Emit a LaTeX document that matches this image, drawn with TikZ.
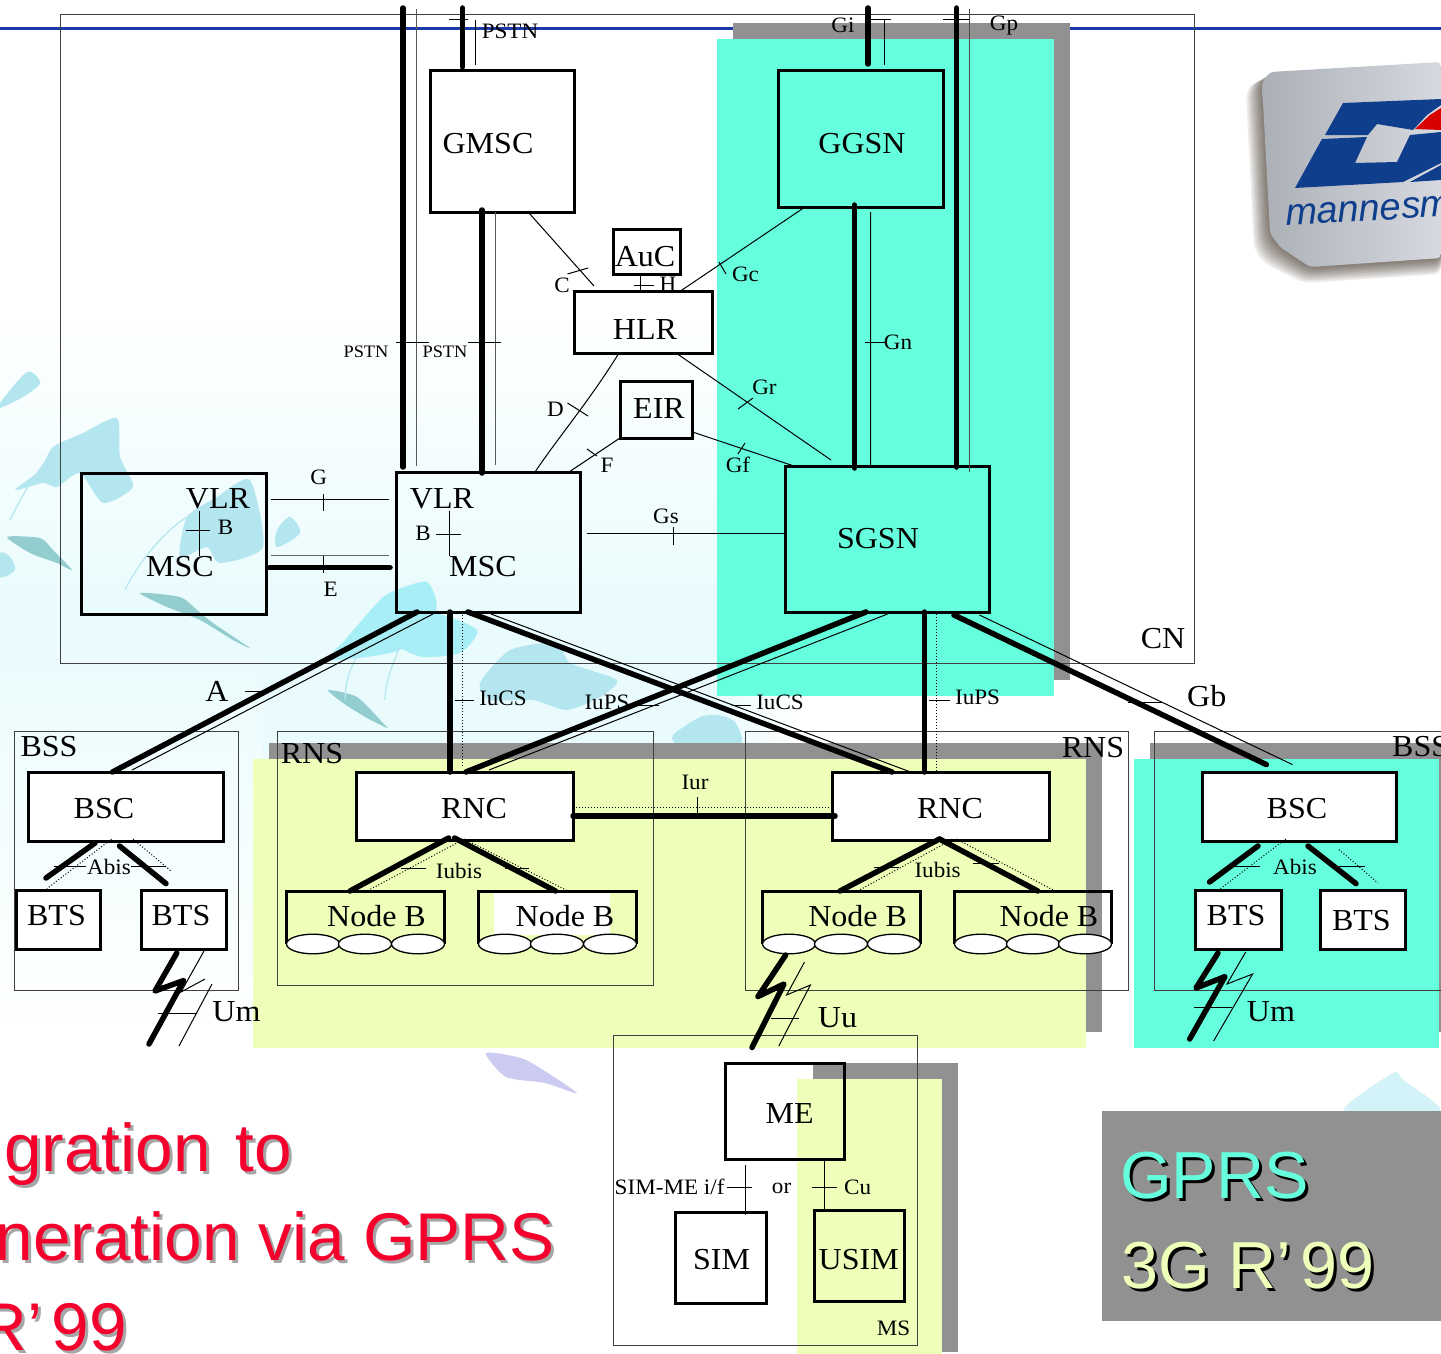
\documentclass[tikz,border=0pt]{standalone}
\usepackage{fontspec}
\setmainfont[FakeStretch=1.05]{Liberation Serif}
\newfontfamily\sansT{Liberation Sans}
\newfontfamily\logoT[ItalicFont={Liberation Sans Italic}]{Liberation Sans}
\usetikzlibrary{calc}
\definecolor{cyanR}{HTML}{66FFDD}
\definecolor{yelR}{HTML}{EEFFB9}
\definecolor{shadeR}{HTML}{919191}
\definecolor{redR}{HTML}{F5002D}
\definecolor{blueL}{HTML}{1C3AA9}
\definecolor{logoB}{HTML}{0F3E8C}
\definecolor{logoP}{HTML}{C9CED6}
\definecolor{wmA}{HTML}{B4E6F0}
\definecolor{wmB}{HTML}{A8EEF6}
\definecolor{wmC}{HTML}{94CDD0}
\definecolor{tintA}{HTML}{E9FBFD}
\tikzset{
  boxs/.style={draw=black,line width=3pt,inner sep=0pt,outer sep=0pt},
  regionb/.style={draw=black!75,line width=1pt,inner sep=0pt,outer sep=0pt},
  ghost/.style={inner sep=0pt,outer sep=0pt},
  thk/.style={line width=5.5pt,line cap=round,line join=round,draw=black},
  thn/.style={line width=1pt,draw=black},
  dot/.style={line width=1pt,dotted,draw=black},
  bigt/.style={font=\fontsize{30.5}{30}\selectfont,inner sep=0pt,text=black,yshift=-.7pt},
  midt/.style={font=\fontsize{22}{22}\selectfont,inner sep=0pt,text=black},
  smlt/.style={font=\fontsize{17.5}{18}\selectfont,inner sep=0pt,text=black},
  titleR/.style={font=\sansT\fontsize{67.5}{67}\selectfont,inner sep=0pt,text=redR},
  titleS/.style={font=\sansT\fontsize{67.5}{67}\selectfont,inner sep=0pt,text=black!35},
  keyT/.style={font=\sansT\fontsize{66.5}{67}\selectfont,inner sep=0pt},
  wm/.style={draw=none,fill=wmA},
  wmthin/.style={draw=wmA,line width=1.2pt},
}
\newcommand\bx[6][]{%
  \pgfmathsetmacro\bcx{(#3+#5)/2}\pgfmathsetmacro\bcy{(#4+#6)/2}%
  \pgfmathsetmacro\bw{#5-#3}\pgfmathsetmacro\bh{#6-#4}%
  \node[#1,minimum width=\bw pt,minimum height=\bh pt] (#2) at (\bcx,\bcy) {};}
\begin{document}
\begin{tikzpicture}[x=1pt,y=-1pt]
\useasboundingbox (0,0) rectangle (1441,1354);
\fill[white] (0,0) rectangle (1441,1354);
% ---------- watermark
\shade[top color=white,bottom color=tintA] (0,300) rectangle (717,620);
\shade[top color=tintA,bottom color=white] (0,620) rectangle (262,1045);
\fill[tintA] (262,620) rectangle (717,760);
\shade[left color=tintA,right color=white] (717,690) rectangle (800,760);
\fill[wm] plot[smooth cycle,tension=.5] coordinates {(0,403) (27,372) (40,383) (23,397) (0,408)};
\fill[wm] plot[smooth cycle,tension=.4] coordinates {(117,418) (120,457) (133,487) (103,503) (80,473) (57,487) (43,483) (15,490) (40,470) (53,447) (83,433)};
\fill[wm] plot[smooth cycle,tension=.4] coordinates {(250,480) (263,547) (220,563) (207,547) (180,557) (187,517) (217,497)};
\fill[wm] plot[smooth cycle,tension=.5] coordinates {(277,530) (290,517) (300,533) (277,547)};
\fill[wm] plot[smooth cycle,tension=.5] coordinates {(0,553) (10,557) (15,570) (0,577)};
\fill[wmC] plot[smooth cycle,tension=.4] coordinates {(7,537) (40,538) (53,550) (72,570) (57,563) (30,553)};
\fill[wmC] plot[smooth cycle,tension=.4] coordinates {(140,593) (180,597) (197,610) (213,623) (250,648) (233,640) (200,620) (167,607)};
\fill[wmB] plot[smooth cycle,tension=.4] coordinates {(427,582) (436,610) (400,650) (330,660) (345,640) (380,600) (396,590)};
\fill[wmC] plot[smooth cycle,tension=.4] coordinates {(328,690) (357,697) (383,723) (387,728) (367,718) (343,703)};
\fill[wmB] plot[smooth cycle,tension=.4] coordinates {(400,630) (433,613) (477,630) (460,653) (423,657) (400,647)};
\fill[wm] plot[smooth cycle,tension=.4] coordinates {(510,650) (557,643) (570,663) (617,680) (600,697) (567,710) (533,700) (490,700) (480,683)};
\fill[wm] plot[smooth cycle,tension=.4] coordinates {(673,735) (700,717) (717,715) (735,722) (740,745) (680,745)};
\draw[wmthin] (10,520) .. controls (30,480) and (50,450) .. (70,440);
\draw[wmthin] (125,590) .. controls (140,560) and (165,530) .. (190,515);
\draw[wmthin] (345,700) .. controls (345,670) and (360,650) .. (375,630);
\draw[wmthin] (385,700) .. controls (385,680) and (395,660) .. (400,645);
\fill[tintA!60!wmA] plot[smooth cycle,tension=.4] coordinates {(1344,1111) (1393,1073) (1403,1080) (1440,1111)};
\fill[black!25!blue!20] plot[smooth cycle,tension=.4] coordinates {(486,1053) (526,1060) (577,1093) (545,1083) (506,1077)};
% ---------- title rule
\draw[blueL,line width=3.5pt] (0,28.5) -- (1441,28.5);
% ---------- shaded regions
\fill[shadeR] (733,23) rectangle (1070,680);
\fill[cyanR] (717,39) rectangle (1054,696);
\fill[shadeR] (269,743) rectangle (1102,1032);
\fill[yelR] (253,759) rectangle (1086,1048);
\fill[shadeR] (1150,743) rectangle (1455,1032);
\fill[cyanR] (1134,759) rectangle (1439,1048);
\fill[shadeR] (813,1063) rectangle (958,1352);
\fill[yelR] (797,1079) rectangle (942,1354);
\fill[shadeR] (1102,1111) rectangle (1441,1321);
% ---------- logo
\foreach \d in {16,14,12,10,8,6,4,2}{
  \fill[black!80!brown,opacity=.09,rounded corners=8pt] ($(1262,83)+(-\d,0.6*\d)$) -- ($(1270,72)+(-\d,0.6*\d)$) -- ($(1441,70)$) -- ($(1441,258)+(0,\d)$) -- ($(1310,267)+(-.4*\d,\d)$) -- ($(1280,247)+(-\d,\d)$) -- ($(1270,233)+(-\d,\d)$) -- cycle;
}
\shade[left color=logoP!85!black,middle color=logoP!45!white,right color=logoP!75!white,rounded corners=4pt] (1262,83) -- (1270,72) -- (1441,62) -- (1441,258) -- (1310,267) -- (1280,247) -- (1270,233) -- cycle;
\fill[logoB] (1343,103) -- (1441,99) -- (1441,105) -- (1427,115) -- (1413,130) -- (1377,124) -- (1368,135) -- (1325,135) -- cycle;
\fill[logoB] (1322,139) -- (1367,137) -- (1355,163) -- (1397,162) -- (1410,135) -- (1441,132) -- (1441,163) -- (1403,182) -- (1295,188) -- cycle;
\fill[logoB] (1410,182) -- (1441,165) -- (1441,180) -- cycle;
\fill[red!85!black] (1415,129) -- (1430,115) -- (1441,108) -- (1441,130) -- cycle;
\node[ghost,anchor=base west,rotate=3,text=logoB,font=\logoT\itshape\fontsize{38}{38}\selectfont] (logotext) at (1286,225) {mannesm};
% ---------- group frames
\bx[regionb]{cn}{60}{15}{1194}{663}
\bx[regionb]{bssL}{14}{731}{238}{990}
\bx[regionb]{rnsL}{277}{731}{653}{985}
\bx[regionb]{rnsR}{745}{731}{1128}{990}
\bx[regionb]{bssR}{1154}{731}{1480}{990}
\bx[regionb]{ms}{613}{1035}{917}{1345}
% ---------- boxes
\bx[boxs,fill=white]{gmsc}{430.5}{71}{574}{212}
\bx[boxs]{auc}{613.5}{229}{680}{274}
\bx[boxs]{hlr}{574}{291}{712.5}{353}
\bx[boxs]{eir}{620}{381}{692.5}{438}
\bx[boxs]{ggsn}{778.5}{71}{943}{207}
\bx[boxs]{sgsn}{785}{466}{989.5}{612}
\bx[boxs]{mscL}{81}{473.5}{266.5}{614}
\bx[boxs]{mscR}{396}{472}{580.5}{612}
\bx[boxs,fill=white]{bscL}{28.5}{772}{223.5}{841}
\bx[boxs,fill=white]{btsA}{16}{890}{100}{949}
\bx[boxs,fill=white]{btsB}{141}{890}{226}{949}
\bx[boxs,fill=white]{rncL}{356}{772}{573}{840}
\bx[boxs,fill=white]{rncR}{832}{772}{1049.5}{840}
\bx[boxs,fill=white]{bscR}{1202}{772}{1396.5}{841}
\bx[boxs,fill=white]{btsC}{1195.5}{890}{1281}{949}
\bx[boxs,fill=white]{btsD}{1320.5}{890}{1405.5}{949}
\bx[boxs]{me}{725.5}{1063}{844.5}{1159}
\bx[boxs]{sim}{675}{1212}{766}{1303}
\bx[boxs]{usim}{814}{1210}{904}{1301}
% ---------- Node B stacks
\fill[white] (494,892) rectangle (610,935);
\bx[ghost]{nbA}{286}{891}{444}{944}
\bx[ghost]{nbB}{478}{891}{636}{944}
\bx[ghost]{nbC}{762}{891}{920}{944}
\bx[ghost]{nbD}{954}{891}{1111}{944}
\foreach \n in {nbA,nbB,nbC,nbD}{
  \draw[line width=3pt] (\n.south west) -- (\n.north west) -- (\n.north east) -- (\n.south east);
}
\foreach \xa/\xb/\xc in {313/365/418,505/557/610,789/841/894,981/1033/1085}{
  \foreach \xx in {\xa,\xb,\xc}{
    \draw[fill=white,line width=1.3pt] (\xx,944) ellipse [x radius=26.5,y radius=9.8];
  }
}
% ---------- core thick/thin connectors
\coordinate (topA) at (403,8);
\coordinate (topAt) at (416,9);
\coordinate (topB) at (462.5,8);
\coordinate (topBt) at (475,20);
\coordinate (topC) at (868,8);
\coordinate (topCt) at (884,20);
\coordinate (topD) at (956.5,8);
\coordinate (topDt) at (969.3,9);
\draw[thk] (topA) -- ([xshift=7pt,yshift=5pt]mscR.north west);
\draw[thn,draw=black!65] (topAt) -- ([xshift=20pt,yshift=6pt]mscR.north west);
\draw[thk] (topB) -- ([xshift=32pt,yshift=4pt]gmsc.north west);
\draw[thn] (topBt) -- ([xshift=44.5pt,yshift=6pt]gmsc.north west);
\draw[thk] ([xshift=51.5pt,yshift=2pt]gmsc.south west) -- ([xshift=86pt,yshift=-1pt]mscR.north west);
\draw[thn,draw=black!65] ([xshift=64.5pt]gmsc.south west) -- ([xshift=99pt,yshift=7pt]mscR.north west);
\draw[thn] ([xshift=98.5pt,yshift=-1pt]gmsc.south west) -- ([xshift=20pt,yshift=5pt]hlr.north west);
\draw[thn] ([xshift=26.5pt]auc.south west) -- ([xshift=66pt]hlr.north west);
\draw[thn] ([xshift=26.5pt]ggsn.south west) -- ([xshift=108pt,yshift=1pt]hlr.north west);
\draw[thn] (hlr.south west) ++(45,0) .. controls (590,400) and (560,435) .. ([xshift=139pt]mscR.north west);
\draw[thn] ([xshift=102pt]hlr.south west) -- ([xshift=46pt,yshift=6pt]sgsn.north west);
\draw[thn] (eir.south west) -- ([xshift=173pt]mscR.north west);
\draw[thn] ([yshift=6pt]eir.south east) -- ([xshift=9pt]sgsn.north west);
\draw[thk] ([xshift=76pt,yshift=2pt]ggsn.south west) -- ([xshift=69.5pt,yshift=-2pt]sgsn.north west);
\draw[thn] ([xshift=92pt,yshift=-5pt]ggsn.south west) -- ([xshift=85.6pt,yshift=1pt]sgsn.north west);
\draw[thk] (topC) -- ([xshift=89.5pt,yshift=7pt]ggsn.north west);
\draw[thn] (topCt) -- ([xshift=105.5pt,yshift=6pt]ggsn.north west);
\draw[thk] (topD) -- ([xshift=171.5pt,yshift=-1pt]sgsn.north west);
\draw[thn,draw=black!70] (topDt) -- ([xshift=184.3pt,yshift=-6pt]sgsn.north west);
\draw[thn] ([xshift=6.5pt,yshift=-61pt]mscR.north east) -- ([yshift=-67pt]sgsn.north west);
\coordinate (gL) at (271,499.4);\coordinate (gR) at (389,499.4);
\draw[thn] (gL) -- (gR);
\coordinate (eL) at (271,555.7);\coordinate (eR) at (389,555.7);
\draw[thn,draw=black!60,line width=1.3pt] (eL) -- (eR);
\draw[thk] ([xshift=3pt,yshift=-94pt]mscL.north east) -- ([xshift=-6pt,yshift=-95.5pt]mscR.north west);
% internal VLR-MSC
\draw[thn] (199,511) -- (199,556);
\draw[thn] (449,511) -- (449,556);
% ---------- access connectors
\draw[thk] ([xshift=21pt]mscR.south west) -- ([xshift=84pt]bscL.north west);
\draw[thn] ([xshift=37pt,yshift=-2pt]mscR.south west) -- ([xshift=103.5pt,yshift=2pt]bscL.north west);
\draw[thk] ([xshift=54pt]mscR.south west) -- ([xshift=94pt]rncL.north west);
\draw[dot] ([xshift=66pt]mscR.south west) -- ([xshift=106pt,yshift=6pt]rncL.north west);
\draw[thk] ([xshift=72pt]mscR.south west) -- ([xshift=60pt]rncR.north west);
\draw[thn] ([xshift=95pt,yshift=-2pt]mscR.south west) -- ([xshift=78.5pt]rncR.north west);
\draw[thk] ([xshift=81pt]sgsn.south west) -- ([xshift=110pt]rncL.north west);
\draw[thn] ([xshift=102.6pt,yshift=-2pt]sgsn.south west) -- ([xshift=133pt,yshift=2pt]rncL.north west);
\draw[thk] ([xshift=139.3pt]sgsn.south west) -- ([xshift=92.3pt]rncR.north west);
\draw[dot] ([xshift=151.7pt,yshift=-2pt]sgsn.south west) -- ([xshift=104.7pt]rncR.north west);
\draw[thk] ([xshift=169pt,yshift=-3pt]sgsn.south west) -- ([xshift=64.4pt,yshift=7.4pt]bscR.north west);
\draw[thn] ([xshift=194.4pt,yshift=-3pt]sgsn.south west) -- ([xshift=90.5pt,yshift=7.4pt]bscR.north west);
% Iur
\draw[thk] ([yshift=-44pt]rncL.north east) -- ([xshift=3pt,yshift=-44pt]rncR.north west);
\draw[dot] ([yshift=-35.5pt]rncL.north east) -- ([yshift=-35.5pt]rncR.north west);
% Abis left
\draw[thk] ([xshift=66.5pt,yshift=-2pt]bscL.south west) -- ([xshift=30pt,yshift=12pt]btsA.north west);
\draw[thk] ([xshift=91pt,yshift=-5pt]bscL.south west) -- ([xshift=25pt,yshift=6.4pt]btsB.north west);
\draw[dot] ([xshift=83pt,yshift=2pt]bscL.south west) -- ([xshift=31pt,yshift=1.4pt]btsA.north west);
\coordinate (abisL) at (171,871);
\draw[dot] ([xshift=104.5pt,yshift=2pt]bscL.south west) -- (abisL);
% Abis right
\draw[thk] ([xshift=56pt,yshift=-5pt]bscR.south west) -- ([xshift=14pt,yshift=8pt]btsC.north west);
\draw[thk] ([xshift=106pt,yshift=-5pt]bscR.south west) -- ([xshift=35.5pt,yshift=6.4pt]btsD.north west);
\draw[dot] ([xshift=83.7pt,yshift=2pt]bscR.south west) -- ([xshift=25pt,yshift=1.4pt]btsC.north west);
\coordinate (abisRa) at (1339,849.6);\coordinate (abisRb) at (1378,883);
\draw[dot] (abisRa) -- (abisRb);
% Iubis
\draw[thk] ([xshift=92.6pt,yshift=2pt]rncL.south west) -- ([xshift=64pt]nbA.north west);
\draw[thk] ([xshift=98.5pt,yshift=2pt]rncL.south west) -- ([xshift=77.5pt]nbB.north west);
\draw[dot] ([xshift=100pt,yshift=-3.5pt]rncL.south west) -- ([xshift=81pt]nbA.north west);
\draw[dot] ([xshift=108pt,yshift=1pt]rncL.south west) -- ([xshift=90pt]nbB.north west);
\draw[thk] ([xshift=107.5pt,yshift=1pt]rncR.south west) -- ([xshift=78pt]nbC.north west);
\draw[thk] ([xshift=107.5pt,yshift=1pt]rncR.south west) -- ([xshift=83.7pt]nbD.north west);
\draw[dot] ([xshift=110.7pt,yshift=-4.6pt]rncR.south west) -- ([xshift=95.7pt]nbC.north west);
\draw[dot] ([xshift=124.5pt,yshift=1pt]rncR.south west) -- ([xshift=101pt]nbD.north west);
% radio links
\draw[thk] ([xshift=35.8pt,yshift=-4pt]btsB.south west) -- ++(-21.8,38) -- ++(28.7,-10.5) -- ++(-34.7,63.5);
\draw[thn] ([xshift=63pt,yshift=-2pt]btsB.south west) -- ++(-23,41) -- ++(24,-13);
\coordinate (umAa) at (212,984);\coordinate (umAb) at (179,1046);
\draw[thn] (umAa) -- (umAb);
\draw[thk] ([xshift=23.7pt,yshift=-11pt]nbC.south west) -- (758,996.5) -- (784,984) -- (752,1047.5);
\draw[thn] ([xshift=42.5pt,yshift=-18pt]nbC.south west) -- (786.6,995) -- (810.4,985) -- (778.8,1046);
\draw[thk] ([xshift=22.5pt,yshift=-4pt]btsC.south west) -- ++(-22,35) -- ++(29,-11.4) -- ++(-35.3,62.4);
\draw[thn] ([xshift=50.2pt,yshift=-3pt]btsC.south west) -- ++(-18.7,32) -- ++(25.6,-10) -- ++(-39,67);
% MS
\draw[thn] ([xshift=20.2pt,yshift=-6pt]me.south west) -- ([xshift=70.7pt,yshift=-3pt]sim.north west);
\draw[thn] ([xshift=98.9pt]me.south west) -- ([xshift=10.4pt]usim.north west);
% ---------- ticks
\foreach \a/\b in {
 {449,20}/{468,20}, {396,342}/{429,342}, {468,342}/{501,342},
 {567.5,274}/{588,268}, {633.6,285}/{654,285}, {719,262}/{726,274},
 {567.5,403}/{588,416}, {587,449}/{597,456}, {738,409}/{753,398},
 {738,454}/{745,443}, {864.6,342}/{885,342}, {864.6,20}/{891,20},
 {943,20}/{969,20}, {323,494}/{323,510.5}, {323,556}/{323,573},
 {186,530}/{210,530}, {436,534}/{461,534}, {673.5,527}/{673.5,545},
 {245,691.5}/{264,691.5}, {454.5,700}/{474,700}, {636,705}/{659,705},
 {731.5,705}/{751,705}, {929,700}/{949.6,700}, {1127.7,702}/{1161.7,702},
 {697,797}/{697,814}, {53.7,866.4}/{86,866.4}, {131,866.4}/{166,866.4},
 {401,868}/{426,868}, {505,868}/{529,868}, {874,867}/{899,867},
 {973.4,863}/{999,863}, {1233,866.4}/{1259.5,866.4}, {1338.5,866}/{1365,866},
 {158,1013}/{197.4,1013}, {771.4,1018}/{798.5,1018}, {1193.8,1007}/{1232,1007},
 {727,1187}/{752,1187}, {811.6,1187}/{837,1187}}{
  \draw[thn] (\a) -- (\b);
}
% ---------- labels
\node[bigt] (tgmsc) at (488,143) {GMSC};
\node[bigt] (tauc) at (645,256) {AuC};
\node[bigt] (thlr) at (645,329) {HLR};
\node[bigt] (teir) at (659,408) {EIR};
\node[bigt] (tggsn) at (862,143) {GGSN};
\node[bigt] (tsgsn) at (878,538) {SGSN};
\node[bigt] (tvlrL) at (218,498) {VLR};
\node[bigt] (tmscL) at (180,566) {MSC};
\node[bigt] (tvlrR) at (442,498) {VLR};
\node[bigt] (tmscR) at (483,566) {MSC};
\node[bigt] (tbscL) at (104,808) {BSC};
\node[bigt] (trncL) at (474,808) {RNC};
\node[bigt] (trncR) at (950,808) {RNC};
\node[bigt] (tbscR) at (1297,808) {BSC};
\node[bigt] (tbtsA) at (56.5,915) {BTS};
\node[bigt] (tbtsB) at (181,915) {BTS};
\node[bigt] (tbtsC) at (1236,915) {BTS};
\node[bigt] (tbtsD) at (1361.4,920) {BTS};
\node[bigt] (tnbA) at (376.5,915.5) {Node B};
\node[bigt] (tnbB) at (565,915.5) {Node B};
\node[bigt] (tnbC) at (857.7,915.5) {Node B};
\node[bigt] (tnbD) at (1049,915.5) {Node B};
\node[bigt] (tme) at (789.6,1113) {ME};
\node[bigt] (tsim) at (721.6,1259) {SIM};
\node[bigt] (tusim) at (858.7,1259) {USIM};
\node[bigt] (tcn) at (1163,638) {CN};
\node[bigt] (tbssL) at (49,746) {BSS};
\node[bigt] (trnsL) at (312,753) {RNS};
\node[bigt] (trnsR) at (1093,747) {RNS};
\node[bigt,anchor=west] (tbssR) at (1392,746) {BSS};
\node[bigt] (ta) at (217,690.5) {A};
\node[bigt] (tgb) at (1206.7,695.5) {Gb};
\node[bigt] (tumL) at (236.5,1011) {Um};
\node[bigt] (tumR) at (1271,1011) {Um};
\node[bigt] (tuu) at (837.5,1017) {Uu};
\node[midt] (tpstnA) at (510,31) {PSTN};
\node[smlt] (tpstnB) at (366,352) {PSTN};
\node[smlt] (tpstnC) at (445,352) {PSTN};
\node[midt] (tc) at (562,285) {C};
\node[midt] (th) at (668,284) {H};
\node[midt] (tgc) at (745.5,274) {Gc};
\node[midt] (td) at (555.5,409) {D};
\node[midt] (tf) at (607,465) {F};
\node[midt] (tgr) at (764.5,387) {Gr};
\node[midt] (tgf) at (738,465) {Gf};
\node[midt] (tgn) at (898,342) {Gn};
\node[midt] (tgi) at (843,25) {Gi};
\node[midt] (tgp) at (1004,26) {Gp};
\node[midt] (tg) at (318.6,477) {G};
\node[midt] (te) at (330.6,589) {E};
\node[midt] (tbL) at (225.5,527) {B};
\node[midt] (tbR) at (423,533) {B};
\node[midt] (tgs) at (666,516.6) {Gs};
\node[midt] (tiucsA) at (503,698) {IuCS};
\node[midt] (tiups) at (607,702) {IuPS};
\node[midt] (tiucsB) at (780,702) {IuCS};
\node[midt] (tiupsB) at (977.6,697) {IuPS};
\node[midt] (tiur) at (695,782) {Iur};
\node[midt] (tabisL) at (109,867) {Abis};
\node[midt] (tabisR) at (1295,867) {Abis};
\node[midt] (tiubL) at (459,871) {Iubis};
\node[midt] (tiubR) at (937.6,869.5) {Iubis};
\node[midt] (tsimme) at (669.6,1187) {SIM-ME i/f};
\node[midt] (tor) at (781.6,1188) {or};
\node[midt] (tcu) at (857.6,1187.7) {Cu};
\node[midt] (tmsl) at (893.5,1328) {MS};
% ---------- slide titles
\foreach \s/\t/\st in {3/3/titleS,0/0/titleR}{
  \node[\st,anchor=base west] (rA\s) at ($(4,1171)+(\s,\t)$) {gration\hspace{.1em} to};
  \node[\st,anchor=base east] (rB\s) at ($(555,1260)+(\s,\t)$) {neration via GPRS};
  \node[\st,anchor=base east] (rC\s) at ($(127,1350)+(\s,\t)$) {R’ \kern-.14em 99};
}
\node[keyT,text=black,anchor=base west] (kA1) at (1123,1201) {GPRS};
\node[keyT,text=cyanR,anchor=base west] (kA0) at (1120,1198) {GPRS};
\node[keyT,text=black,anchor=base west] (kB1) at (1124,1291) {3G R’ \kern-.14em 99};
\node[keyT,text=yelR,anchor=base west] (kB0) at (1121,1288) {3G R’ \kern-.14em 99};
\end{tikzpicture}
\end{document}
